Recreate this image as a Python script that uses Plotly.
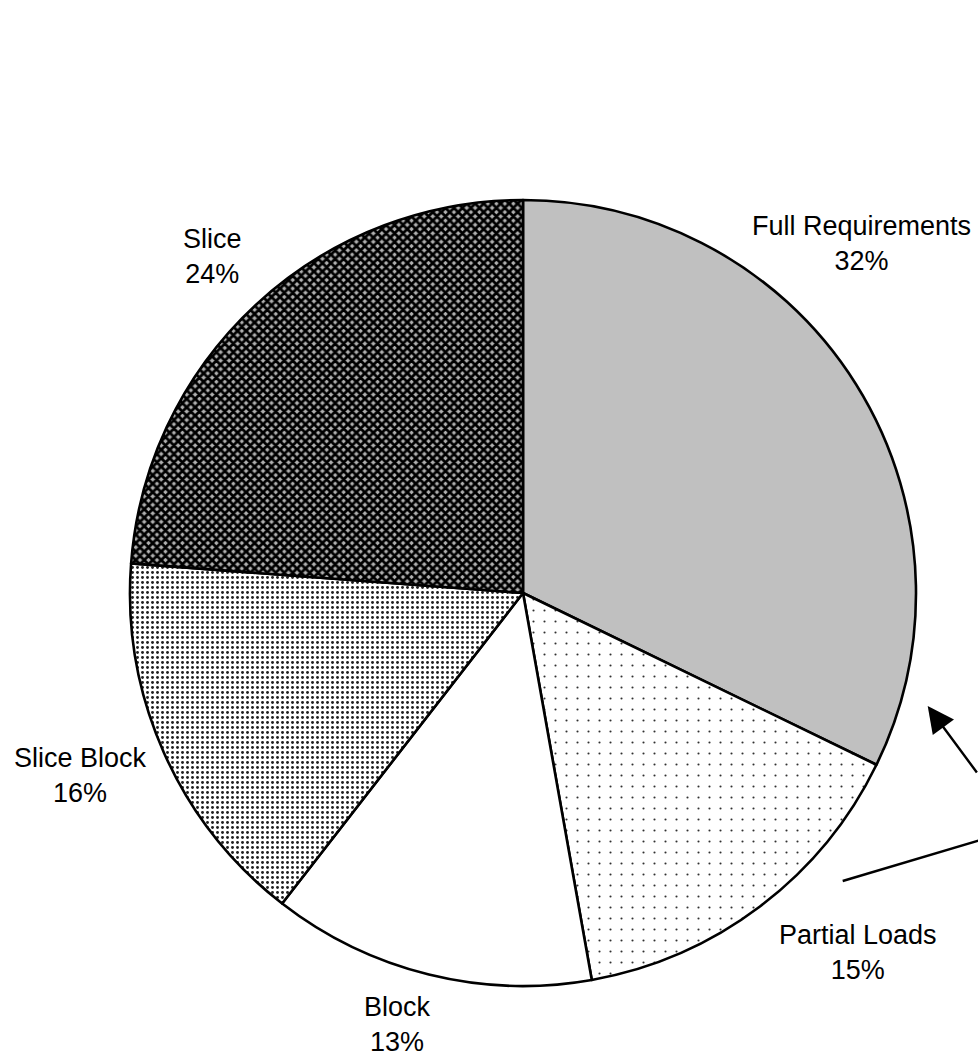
import plotly.graph_objects as go

categories = ["Full Requirements", "Partial Loads", "Block", "Slice Block", "Slice"]
values = [32.2, 15.0, 13.3, 15.7, 23.8]
pct_labels = ["32%", "15%", "13%", "16%", "24%"]

W, H = 978, 1056

fig = go.Figure()
fig.add_trace(go.Pie(
    labels=categories,
    values=values,
    sort=False,
    direction="clockwise",
    rotation=0,
    textinfo="none",
    hoverinfo="skip",
    showlegend=False,
    domain=dict(x=[130 / W, 916 / W], y=[1 - 986 / H, 1 - 200 / H]),
    marker=dict(
        colors=["#c0c0c0", "#ffffff", "#ffffff", "#ffffff", "#b0b0b0"],
        line=dict(color="#000000", width=2.6),
        pattern=dict(
            shape=["", ".", "", ".", "x"],
            fgcolor=["#000000", "#303030", "#000000", "#202020", "#000000"],
            bgcolor=["#c0c0c0", "#ffffff", "#ffffff", "#ffffff", "#b0b0b0"],
            size=[8, 11, 8, 5, 6],
            solidity=[0.3, 0.03, 0.3, 0.26, 0.72],
            fillmode="replace",
        ),
    ),
))

# label positions (pixel centers of the two-line label block)
label_pos = [(861, 243.5), (858, 952.5), (397, 1024), (80, 775), (212, 256)]
font = dict(family="Liberation Sans, Arial, sans-serif", size=27, color="#000000")
for name, pct, (px, py) in zip(categories, pct_labels, label_pos):
    fig.add_annotation(
        x=px / W, y=1 - py / H, xref="paper", yref="paper",
        text=f"{name}<br>{pct}", showarrow=False, borderpad=0,
        xanchor="center", yanchor="middle", align="center", font=font,
    )

# arrow pointing to the Full Requirements slice
fig.add_annotation(
    x=927.7 / W, y=1 - 706 / H, xref="paper", yref="paper",
    ax=60, ay=68, text="", showarrow=True,
    arrowhead=2, arrowsize=2.2, arrowwidth=2.4, arrowcolor="#000000",
)
# plain line toward the Partial Loads slice
fig.add_shape(
    type="line", xref="paper", yref="paper",
    x0=842.7 / W, y0=1 - 881 / H, x1=990 / W, y1=1 - 837.1 / H,
    line=dict(color="#000000", width=2.4),
)

fig.update_layout(
    width=W, height=H,
    margin=dict(l=0, r=0, t=0, b=0),
    paper_bgcolor="#ffffff", plot_bgcolor="#ffffff",
)
fig.write_html("out.html")
